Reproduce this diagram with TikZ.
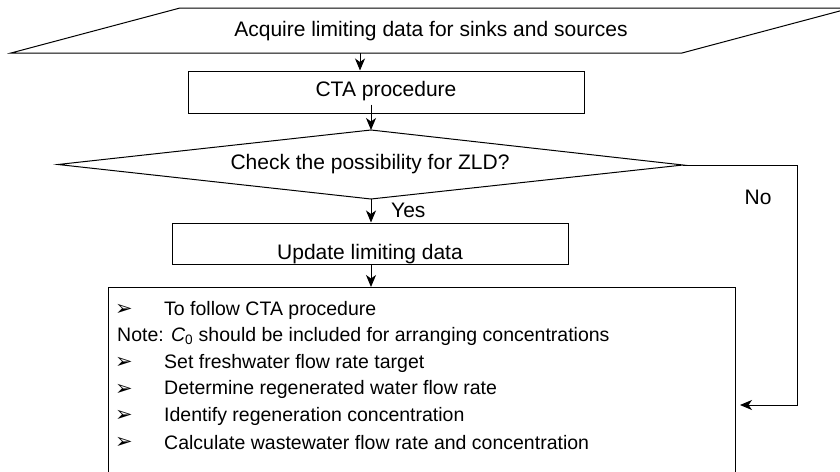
\documentclass[tikz,border=0pt]{standalone}
\usepackage{fontspec}
\setmainfont{Liberation Sans}
\newfontfamily\dejavu{DejaVu Sans}
\usetikzlibrary{arrows.meta,calc}
\begin{document}
\begin{tikzpicture}[x=1pt,y=-1pt,
  line/.style={draw=black,line width=1pt},
  arr/.style={line,-{Stealth[length=12pt,width=10pt,inset=3.5pt]}},
  lbl/.style={font=\fontsize{21}{24}\selectfont,inner sep=0pt},
  boxnode/.style={line,rectangle,inner sep=0pt},
  itemtxt/.style={font=\fontsize{19.5}{22}\selectfont,inner sep=0pt,anchor=west},
  bul/.style={font=\dejavu\fontsize{21}{24}\selectfont,inner sep=0pt,anchor=west},
]
\useasboundingbox (0,0) rectangle (840,471);
\clip (0,0) rectangle (840,471);

% parallelogram
\coordinate (p1) at (11,53);
\coordinate (p2) at (180,8);
\coordinate (p3) at (851,8);
\coordinate (p4) at (682,53);
\draw[line] (p1) -- (p2) -- (p3) -- (p4) -- cycle;
\node[lbl] (acq) at (431,31) {Acquire limiting data for sinks and sources};
\coordinate (acqB) at (360,53);

% CTA
\node[boxnode,minimum width=396pt,minimum height=42pt] (cta) at (386,92) {};
\node[lbl] (ctat) at (386,91) {CTA procedure};

% diamond
\coordinate (dl) at (58,164.5);
\coordinate (dt) at (371,130);
\coordinate (dr) at (683,165);
\coordinate (db) at (371,199);
\draw[line] (dl) -- (dt) -- (dr) -- (db) -- cycle;
\node[lbl] (chk) at (370,164) {Check the possibility for ZLD?};

% update
\node[boxnode,minimum width=396pt,minimum height=41pt] (upd) at (370,243.5) {};
\node[lbl,anchor=base] (updt) at (370,259) {Update limiting data};

% main box
\node[boxnode,minimum width=627pt,minimum height=220pt,anchor=north] (main) at (421.5,287) {};

% items
\node[bul] (b1) at (115,310) {➢};
\node[itemtxt] (t1) at (164,310) {To follow CTA procedure};
\node[itemtxt] (t2) at (117,336.5) {Note: \textit{C}\textsubscript{0} should be included for arranging concentrations};
\node[bul] (b3) at (115,363) {➢};
\node[itemtxt] (t3) at (164,363) {Set freshwater flow rate target};
\node[bul] (b4) at (115,389.5) {➢};
\node[itemtxt] (t4) at (164,389.5) {Determine regenerated water flow rate};
\node[bul] (b5) at (115,416) {➢};
\node[itemtxt] (t5) at (164,416) {Identify regeneration concentration};
\node[bul] (b6) at (115,442.5) {➢};
\node[itemtxt] (t6) at (164,442.5) {Calculate wastewater flow rate and concentration};

% connectors
\draw[arr] (acqB) -- (acqB |- cta.north);
\draw[arr] ($(cta.south -| dt)+(0,-9)$) -- (dt);
\draw[arr] (db) -- (upd.north -| db);
\node[lbl,anchor=west] (yes) at (391,210) {Yes};
\draw[arr] (upd.south -| db) -- (main.north -| db);
\coordinate (nocorner) at (797,165);
\coordinate (noend) at (740,405);
\draw[arr] (dr) -- (nocorner) |- (noend);
\node[lbl] (no) at (758,197) {No};
\end{tikzpicture}
\end{document}
